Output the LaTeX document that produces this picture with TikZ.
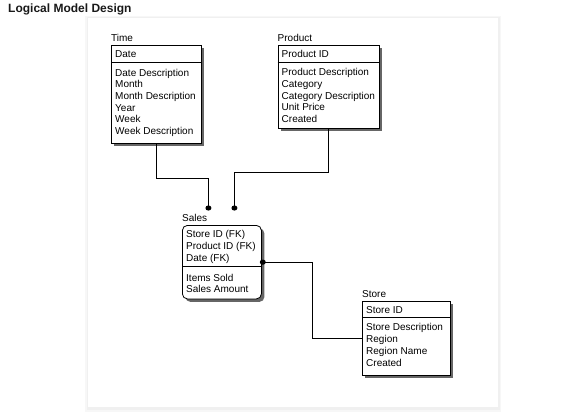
\documentclass[tikz,border=0pt]{standalone}
\usepackage{fontspec}
\setmainfont{Liberation Sans}
\usetikzlibrary{calc,shadows}

\newcommand{\fieldfont}{\fontsize{10}{12}\selectfont}

\tikzset{
  entity/.style={draw, line width=0.8pt, fill=white, anchor=north west, inner sep=0pt,
    drop shadow={shadow xshift=3pt, shadow yshift=-3pt, fill=black!60, opacity=1}},
  field/.style={anchor=base west, inner sep=0pt, font=\fieldfont},
  divider/.style={line width=0.8pt},
  link/.style={line width=0.8pt},
  enddot/.style={fill=black}
}

\begin{document}
\begin{tikzpicture}[x=1pt,y=-1pt]
\useasboundingbox (0,0) rectangle (572,413);

% page panel
\fill[black!3] (85,16) rectangle (501,412);
\fill[black!6] (86.5,17) rectangle (499.5,410);
\fill[white] (88,17.5) rectangle (497.5,407);
\node[anchor=base west, inner sep=0pt, text=black!90, font=\bfseries\fontsize{12}{14}\selectfont] (heading) at (8,12) {Logical Model Design};

% Time
\node[entity, minimum width=90, minimum height=98] (time) at (111,45) {};
\node[field] (time-lbl) at ($(time.north west)+(0,-3.5)$) {Time};
\node[field] (time-key) at ($(time.north west)+(4,12.5)$) {Date};
\draw[divider] ([yshift=-17pt]time.north west) -- ([yshift=-17pt]time.north east);
\foreach \f [count=\i from 0] in {Date Description,Month,Month Description,Year,Week,Week Description}
  \node[field] (time-\i) at ($(time.north west)+(4,31+11.7*\i)$) {\f};

% Product
\node[entity, minimum width=101.5, minimum height=83] (product) at (277.5,45) {};
\node[field] (product-lbl) at ($(product.north west)+(0,-3.5)$) {Product};
\node[field] (product-key) at ($(product.north west)+(4,12.5)$) {Product ID};
\draw[divider] ([yshift=-17pt]product.north west) -- ([yshift=-17pt]product.north east);
\foreach \f [count=\i from 0] in {Product Description,Category,Category Description,Unit Price,Created}
  \node[field] (product-\i) at ($(product.north west)+(4,30.5+11.8*\i)$) {\f};

% Sales
\node[entity, rounded corners=5pt, minimum width=79, minimum height=73.5] (sales) at (182,225) {};
\node[field] (sales-lbl) at ($(sales.north west)+(0,-3.5)$) {Sales};
\foreach \f [count=\i from 0] in {Store ID (FK),Product ID (FK),Date (FK)}
  \node[field] (sales-key\i) at ($(sales.north west)+(4,12.5+11.8*\i)$) {\f};
\draw[divider] ([yshift=-41.7pt]sales.north west) -- ([yshift=-41.7pt]sales.north east);
\foreach \f [count=\i from 0] in {Items Sold,Sales Amount}
  \node[field] (sales-\i) at ($(sales.north west)+(4,56+11.8*\i)$) {\f};

% Store
\node[entity, minimum width=88, minimum height=74.5] (store) at (362,300.5) {};
\node[field] (store-lbl) at ($(store.north west)+(0,-3.5)$) {Store};
\node[field] (store-key) at ($(store.north west)+(4,12.5)$) {Store ID};
\draw[divider] ([yshift=-17pt]store.north west) -- ([yshift=-17pt]store.north east);
\foreach \f [count=\i from 0] in {Store Description,Region,Region Name,Created}
  \node[field] (store-\i) at ($(store.north west)+(4,30.3+11.9*\i)$) {\f};

% relationships
\coordinate (time-end) at ($(sales.north)+(-13.5,-17)$);
\coordinate (product-end) at ($(sales.north)+(12.5,-17)$);
\coordinate (store-end) at ($(sales.east)+(1,0)$);
\draw[link] (time.south) -- ++(0,35) -| (time-end);
\draw[link] (product.south) -- ++(0,44) -| (product-end);
\draw[link] (store-end) -- ++(50,0) |- (store.west);
\fill[enddot] (time-end) ellipse (3pt and 2.6pt);
\fill[enddot] (product-end) ellipse (3pt and 2.6pt);
\fill[enddot] (store-end) ellipse (3pt and 2.6pt);
\end{tikzpicture}
\end{document}
